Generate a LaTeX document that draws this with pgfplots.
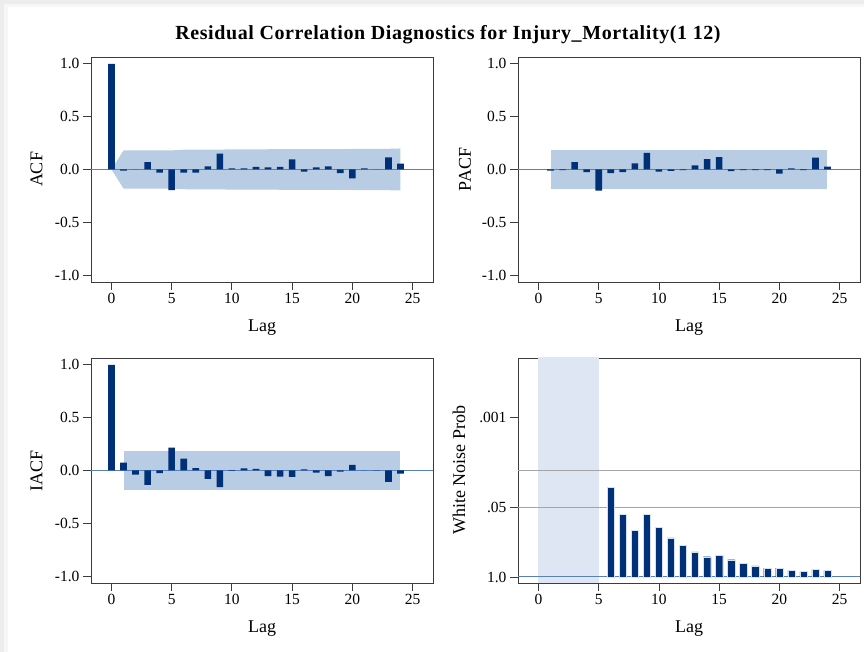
\documentclass[border=0pt]{standalone}
\usepackage{fontspec}
\setmainfont{Liberation Serif}
\usepackage{pgfplots}
\pgfplotsset{compat=1.18}

\definecolor{barcol}{RGB}{0,48,120}
\definecolor{bandcol}{RGB}{184,204,228}
\definecolor{zerocol}{RGB}{88,128,188}
\definecolor{shadecol}{RGB}{221,230,242}
\definecolor{axcol}{RGB}{60,60,60}
\definecolor{refgray}{RGB}{165,165,165}

\pgfplotsset{
  sas/.style={
    scale only axis, width=342pt, height=225pt,
    anchor=north west,
    xmin=-1.7, xmax=26.7,
    xtick={0,5,10,15,20,25},
    axis line style={draw=axcol, line width=0.9pt},
    tick align=outside, major tick length=8pt,
    tick style={axcol, line width=0.8pt},
    xtick pos=bottom, ytick pos=left,
    /pgf/number format/assume math mode=true,
    ticklabel style={font=\fontsize{15.5}{15.5}\selectfont},
    label style={font=\fontsize{18}{18}\selectfont},
    xlabel=Lag,
    xlabel style={at={(axis description cs:0.5,-0.204)}, anchor=center},
    clip=true,
  },
  corr/.style={
    ymin=-1.065, ymax=1.065,
    ytick={-1,-0.5,0,0.5,1},
    yticklabels={-1.0,-0.5,0.0,0.5,1.0},
  },
  bars/.style={ybar, bar width=0.55, bar shift=0pt, fill=barcol, draw=none},
}

\begin{document}
\begin{tikzpicture}
\useasboundingbox (0pt,0pt) rectangle (864pt,652pt);
\fill[black!7] (0pt,0pt) rectangle (864pt,652pt);
\fill[black!3] (4pt,0pt) rectangle (864pt,648pt);
\fill[white] (8pt,0pt) rectangle (864pt,645pt);

\node[font=\bfseries\fontsize{20}{20}\selectfont\addfontfeature{LetterSpace=3}] at (448pt,617pt)
  {Residual Correlation Diagnostics for Injury\_Mortality(1 12)};

% ACF
\begin{axis}[sas, corr, at={(91pt,595pt)}, ylabel=ACF,
  ylabel style={at={(axis description cs:-0.159,0.5)}, anchor=center}]
  \addplot[fill=bandcol, draw=none] coordinates {
    (0,0) (1,0.180) (5,0.181) (6,0.187) (9,0.188) (10,0.191) (15,0.192)
    (16,0.193) (20,0.194) (21,0.196) (23,0.196) (24,0.199)
    (24,-0.199) (23,-0.196) (21,-0.196) (20,-0.194) (16,-0.193) (15,-0.192)
    (10,-0.191) (9,-0.188) (6,-0.187) (5,-0.181) (1,-0.180)} -- cycle;
  \addplot[zerocol, line width=1pt] coordinates {(-2,0) (27,0)};
  \addplot[bars] coordinates {
    (0,1.0) (1,-0.01) (2,0.002) (3,0.07) (4,-0.03) (5,-0.195) (6,-0.03)
    (7,-0.03) (8,0.03) (9,0.15) (10,0.01) (11,0.01) (12,0.025) (13,0.02)
    (14,0.025) (15,0.095) (16,-0.02) (17,0.02) (18,0.03) (19,-0.035)
    (20,-0.085) (21,0.01) (22,0.002) (23,0.115) (24,0.055)};
\end{axis}

% PACF
\begin{axis}[sas, corr, at={(518pt,595pt)}, ylabel=PACF,
  ylabel style={at={(axis description cs:-0.155,0.5)}, anchor=center}]
  \addplot[fill=bandcol, draw=none] coordinates {
    (1,0.182) (24,0.182) (24,-0.182) (1,-0.182)} -- cycle;
  \addplot[zerocol, line width=1pt] coordinates {(-2,0) (27,0)};
  \addplot[bars] coordinates {
    (1,-0.01) (2,-0.005) (3,0.07) (4,-0.025) (5,-0.2) (6,-0.035)
    (7,-0.025) (8,0.057) (9,0.157) (10,-0.02) (11,-0.012) (12,-0.005)
    (13,0.04) (14,0.097) (15,0.116) (16,-0.015) (17,-0.005) (18,-0.005)
    (19,-0.005) (20,-0.04) (21,0.01) (22,-0.005) (23,0.113) (24,0.028)};
\end{axis}

% IACF
\begin{axis}[sas, corr, at={(91pt,294pt)}, ylabel=IACF,
  ylabel style={at={(axis description cs:-0.159,0.5)}, anchor=center}]
  \addplot[fill=bandcol, draw=none] coordinates {
    (1,0.184) (24,0.184) (24,-0.184) (1,-0.184)} -- cycle;
  \addplot[zerocol, line width=1pt] coordinates {(-2,0) (27,0)};
  \addplot[bars] coordinates {
    (0,1.0) (1,0.075) (2,-0.04) (3,-0.135) (4,-0.025) (5,0.217) (6,0.113)
    (7,0.022) (8,-0.079) (9,-0.157) (10,-0.003) (11,0.02) (12,0.015)
    (13,-0.053) (14,-0.057) (15,-0.06) (16,0.01) (17,-0.02) (18,-0.053)
    (19,-0.01) (20,0.053) (21,0.002) (22,-0.002) (23,-0.107) (24,-0.03)};
\end{axis}

% White noise probability (plotted as -log10 p)
\begin{axis}[sas, at={(518pt,294pt)}, ylabel=White Noise Prob,
  ylabel style={at={(axis description cs:-0.1725,0.5)}, anchor=center},
  ymin=-0.113, ymax=4.11,
  ytick={0,1.30103,3}, yticklabels={1.0,.05,.001}]
  \addplot[fill=shadecol, draw=none] coordinates {
    (0,-1) (5,-1) (5,5) (0,5)} -- cycle;
  \addplot[refgray, line width=1pt] coordinates {(-2,2) (27,2)};
  \addplot[refgray, line width=1pt] coordinates {(-2,1.30103) (27,1.30103)};
  \addplot[zerocol, line width=1pt] coordinates {(-2,0) (27,0)};
  \addplot[bars, bar width=0.6, draw=bandcol!60, line width=0.3pt] coordinates {
    (6,1.68) (7,1.18) (8,0.87) (9,1.18) (10,0.93) (11,0.735) (12,0.60)
    (13,0.47) (14,0.38) (15,0.405) (16,0.324) (17,0.26) (18,0.206)
    (19,0.168) (20,0.168) (21,0.125) (22,0.10) (23,0.143) (24,0.13)};
\end{axis}
\end{tikzpicture}
\end{document}
